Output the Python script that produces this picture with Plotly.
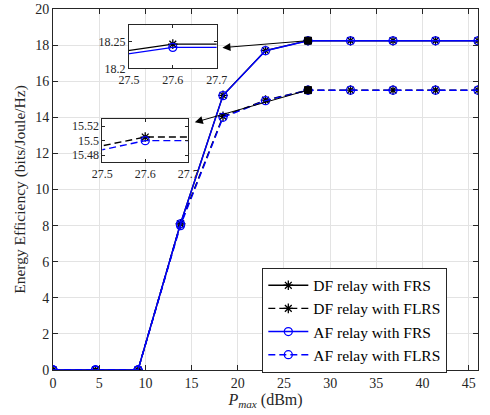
import plotly.graph_objects as go

# ---- data ----
P_max = [0, 4.6, 9.2, 13.8, 18.4, 23, 27.6, 32.2, 36.8, 41.4, 46]
DF_FRS = [0, 0, 0, 8.1, 15.22, 17.70, 18.245, 18.245, 18.245, 18.245, 18.245]
DF_FLRS = [0, 0, 0, 8.1, 14.05, 14.95, 15.505, 15.505, 15.505, 15.505, 15.505]
AF_FRS = [0, 0, 0, 8.1, 15.2, 17.69, 18.239, 18.239, 18.239, 18.239, 18.239]
AF_FLRS = [0, 0, 0, 8.0, 14.0, 14.92, 15.50, 15.50, 15.50, 15.50, 15.50]
names = ["DF relay with FRS", "DF relay with FLRS", "AF relay with FRS", "AF relay with FLRS"]
x_ticks = [0, 5, 10, 15, 20, 25, 30, 35, 40, 45]
y_ticks = [0, 2, 4, 6, 8, 10, 12, 14, 16, 18, 20]
inset1_xticks = [27.5, 27.6, 27.7]
inset1_yticks = [18.2, 18.25]
inset2_yticks = [15.48, 15.5, 15.52]
zoom_idx = 6

FONT = "Times New Roman, Liberation Serif, serif"
BLACK = "#000000"
BLUE = "#0000ff"
DASH = "7px,4px"

series = [
    (DF_FRS, names[0], BLACK, "solid", "asterisk-open"),
    (DF_FLRS, names[1], BLACK, DASH, "asterisk-open"),
    (AF_FRS, names[2], BLUE, "solid", "circle-open"),
    (AF_FLRS, names[3], BLUE, DASH, "circle-open"),
]

fig = go.Figure()
for ys, nm, col, dash, sym in series:
    fig.add_trace(go.Scatter(
        x=P_max, y=ys, name=nm, mode="lines+markers",
        line=dict(color=col, width=1.4, dash=dash),
        marker=dict(symbol=sym, size=8, color=col, line=dict(color=col, width=1.3)),
    ))

# zoom location markers
fig.add_trace(go.Scatter(
    x=[P_max[zoom_idx], P_max[zoom_idx]], y=[DF_FRS[zoom_idx], DF_FLRS[zoom_idx]],
    mode="markers", showlegend=False,
    marker=dict(symbol="square", size=7, color=BLACK, line=dict(color=BLACK, width=1)),
))

# inset traces
for ys, nm, col, dash, sym in series[0:4:2]:
    fig.add_trace(go.Scatter(
        x=P_max, y=ys, mode="lines+markers", showlegend=False, xaxis="x2", yaxis="y2",
        line=dict(color=col, width=1.4, dash=dash),
        marker=dict(symbol=sym, size=8, color=col, line=dict(color=col, width=1.3)),
    ))
for ys, nm, col, dash, sym in series[1:4:2]:
    fig.add_trace(go.Scatter(
        x=P_max, y=ys, mode="lines+markers", showlegend=False, xaxis="x3", yaxis="y3",
        line=dict(color=col, width=1.4, dash=dash),
        marker=dict(symbol=sym, size=8, color=col, line=dict(color=col, width=1.3)),
    ))

tickfont = dict(family=FONT, size=14, color="#262626")
inset_tickfont = dict(family=FONT, size=12, color="#262626")
axis_common = dict(
    showline=True, linecolor="#262626", linewidth=1, mirror="ticks",
    ticks="inside", ticklen=5, tickcolor="#262626", tickfont=tickfont,
    zeroline=False,
)
inset_common = dict(
    showline=True, linecolor="#262626", linewidth=1, mirror="ticks",
    ticks="inside", ticklen=3, tickcolor="#262626", tickfont=inset_tickfont,
    zeroline=False, showgrid=False, automargin=False,
)

fig.update_layout(
    width=490, height=415,
    margin=dict(l=53, r=12, t=9, b=45),
    paper_bgcolor="white", plot_bgcolor="white",
    font=dict(family=FONT, size=14, color="#262626"),
    showlegend=True,
    legend=dict(
        x=0.4925, y=0.2834, xanchor="left", yanchor="top",
        bgcolor="white", bordercolor="#262626", borderwidth=1,
        font=dict(family=FONT, size=15.5, color=BLACK),
        itemwidth=40,
    ),
    xaxis=dict(
        range=[0, 46], tickvals=x_ticks, showgrid=True, gridcolor="#e3e3e3",
        automargin="bottom",
        title=dict(text="<i>P</i><sub><i>max</i></sub> (dBm)", standoff=3,
                   font=dict(family=FONT, size=16, color="#262626")),
        **axis_common,
    ),
    yaxis=dict(
        range=[0, 20], tickvals=y_ticks, showgrid=True, gridcolor="#e3e3e3",
        automargin="left",
        title=dict(text="Energy Efficiency (bits/Joule/Hz)", standoff=5,
                   font=dict(family=FONT, size=15.5, color="#262626")),
        **axis_common,
    ),
    xaxis2=dict(domain=[0.1788, 0.385], anchor="y2", range=[27.5, 27.7], tickvals=inset1_xticks, **inset_common),
    yaxis2=dict(domain=[0.8357, 0.9548], anchor="x2", range=[18.2, 18.28], tickvals=inset1_yticks, **inset_common),
    xaxis3=dict(domain=[0.116, 0.318], anchor="y3", range=[27.5, 27.7], tickvals=inset1_xticks, **inset_common),
    yaxis3=dict(domain=[0.5753, 0.6953], anchor="x3", range=[15.47, 15.53], tickvals=inset2_yticks, **inset_common),
)

# arrows from zoom markers to insets
arrows = [((18.34, 17.86), (P_max[zoom_idx], DF_FRS[zoom_idx])),
          ((15.35, 13.72), (P_max[zoom_idx], DF_FLRS[zoom_idx]))]
for (hx, hy), (tx, ty) in arrows:
    fig.add_annotation(
        x=hx, y=hy, ax=tx, ay=ty, xref="x", yref="y", axref="x", ayref="y",
        text="", showarrow=True, arrowhead=2, arrowsize=1.6, arrowwidth=1,
        arrowcolor=BLACK, standoff=0, startstandoff=0,
    )

fig.write_html("out.html", config={"displayModeBar": False},
               post_script="document.body.style.margin='0';")
